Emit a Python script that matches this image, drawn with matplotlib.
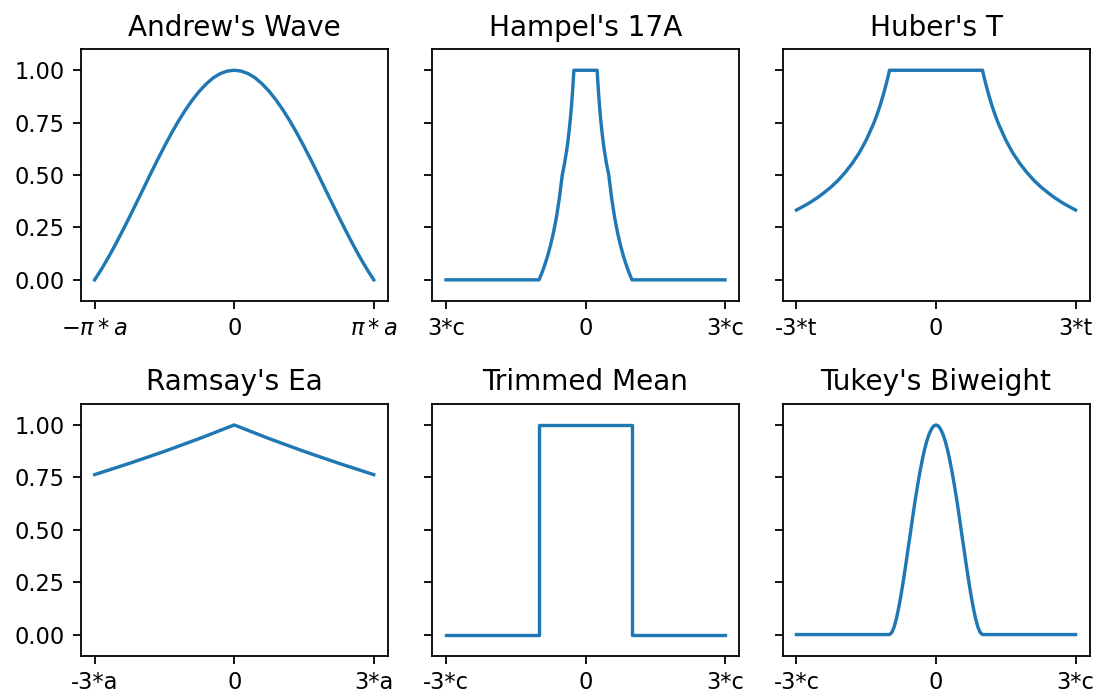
import matplotlib
matplotlib.use("Agg")
import matplotlib.pyplot as plt

# ---- data (x in units of the end ticks: -1 .. 1) ----
andrew_x = [-1.0, -0.95, -0.9, -0.85, -0.8, -0.75, -0.7, -0.65, -0.6, -0.55, -0.5,
            -0.45, -0.4, -0.35, -0.3, -0.25, -0.2, -0.15, -0.1, -0.05, 0.0,
            0.05, 0.1, 0.15, 0.2, 0.25, 0.3, 0.35, 0.4, 0.45, 0.5,
            0.55, 0.6, 0.65, 0.7, 0.75, 0.8, 0.85, 0.9, 0.95, 1.0]
andrew_y = [0.0, 0.052, 0.109, 0.170, 0.234, 0.300, 0.368, 0.436, 0.505, 0.572, 0.637,
            0.699, 0.757, 0.810, 0.858, 0.900, 0.935, 0.964, 0.984, 0.996, 1.0,
            0.996, 0.984, 0.964, 0.935, 0.900, 0.858, 0.810, 0.757, 0.699, 0.637,
            0.572, 0.505, 0.436, 0.368, 0.300, 0.234, 0.170, 0.109, 0.052, 0.0]

hampel_x = [-1.0, -0.333, -0.3125, -0.292, -0.271, -0.25, -0.229, -0.208, -0.1875, -0.1667,
            -0.15, -0.1333, -0.125, -0.1167, -0.1083, -0.1, -0.0917, -0.0833,
            0.0833, 0.0917, 0.1, 0.1083, 0.1167, 0.125, 0.1333, 0.15,
            0.1667, 0.1875, 0.208, 0.229, 0.25, 0.271, 0.292, 0.3125, 0.333, 1.0]
hampel_y = [0.0, 0.0, 0.033, 0.071, 0.115, 0.167, 0.227, 0.300, 0.389, 0.500,
            0.556, 0.625, 0.667, 0.714, 0.769, 0.833, 0.909, 1.0,
            1.0, 0.909, 0.833, 0.769, 0.714, 0.667, 0.625, 0.556,
            0.500, 0.389, 0.300, 0.227, 0.167, 0.115, 0.071, 0.033, 0.0, 0.0]

huber_x = [-1.0, -0.95, -0.9, -0.85, -0.8, -0.75, -0.7, -0.65, -0.6, -0.55, -0.5, -0.45,
           -0.425, -0.4, -0.375, -0.35, -0.3333, 0.3333, 0.35, 0.375, 0.4, 0.425,
           0.45, 0.5, 0.55, 0.6, 0.65, 0.7, 0.75, 0.8, 0.85, 0.9, 0.95, 1.0]
huber_y = [0.333, 0.351, 0.370, 0.392, 0.417, 0.444, 0.476, 0.513, 0.556, 0.606, 0.667, 0.741,
           0.784, 0.833, 0.889, 0.952, 1.0, 1.0, 0.952, 0.889, 0.833, 0.784,
           0.741, 0.667, 0.606, 0.556, 0.513, 0.476, 0.444, 0.417, 0.392, 0.370, 0.351, 0.333]

ramsay_x = [-1.0, -0.75, -0.5, -0.25, 0.0, 0.25, 0.5, 0.75, 1.0]
ramsay_y = [0.763, 0.817, 0.874, 0.935, 1.0, 0.935, 0.874, 0.817, 0.763]

trimmed_x = [-1.0, -0.3333, -0.3333, 0.3333, 0.3333, 1.0]
trimmed_y = [0.0, 0.0, 1.0, 1.0, 0.0, 0.0]

tukey_x = [-1.0, -0.3333, -0.3167, -0.3, -0.2833, -0.2667, -0.25, -0.2333, -0.2167, -0.2,
           -0.1833, -0.1667, -0.15, -0.1333, -0.1167, -0.1, -0.0833, -0.0667, -0.05,
           -0.0333, -0.0167, 0.0, 0.0167, 0.0333, 0.05, 0.0667, 0.0833, 0.1, 0.1167,
           0.1333, 0.15, 0.1667, 0.1833, 0.2, 0.2167, 0.2333, 0.25, 0.2667, 0.2833,
           0.3, 0.3167, 0.3333, 1.0]
tukey_y = [0.0, 0.0, 0.0095, 0.036, 0.077, 0.130, 0.191, 0.260, 0.333, 0.410,
           0.485, 0.5625, 0.638, 0.706, 0.770, 0.828, 0.879, 0.922, 0.955,
           0.980, 0.995, 1.0, 0.995, 0.980, 0.955, 0.922, 0.879, 0.828, 0.770,
           0.706, 0.638, 0.5625, 0.485, 0.410, 0.333, 0.260, 0.191, 0.130, 0.077,
           0.036, 0.0095, 0.0, 0.0]

titles = ["Andrew's Wave", "Hampel's 17A", "Huber's T",
          "Ramsay's Ea", "Trimmed Mean", "Tukey's Biweight"]
xlabels = [[r"$-\pi*a$", "0", r"$\pi*a$"],
           ["3*c", "0", "3*c"],
           ["-3*t", "0", "3*t"],
           ["-3*a", "0", "3*a"],
           ["-3*c", "0", "3*c"],
           ["-3*c", "0", "3*c"]]
xticks = [-1, 0, 1]
yticks = [0.0, 0.25, 0.5, 0.75, 1.0]
ytick_labels = ["0.00", "0.25", "0.50", "0.75", "1.00"]

series = [(andrew_x, andrew_y), (hampel_x, hampel_y), (huber_x, huber_y),
          (ramsay_x, ramsay_y), (trimmed_x, trimmed_y), (tukey_x, tukey_y)]

DPI = 162
W, H = 1097, 693
fig = plt.figure(figsize=(W / DPI, H / DPI), dpi=DPI)
lefts = [80.7, 432.0, 782.5]
tops = [49.3, 404.0]
aw, ah = 307.0, 251.5

for i in range(6):
    r, c = divmod(i, 3)
    ax = fig.add_axes([lefts[c] / W, 1 - (tops[r] + ah) / H, aw / W, ah / H])
    x, y = series[i]
    ax.plot(x, y, color="#1f77b4", lw=1.5)
    ax.set_xlim(-1.1, 1.1)
    ax.set_ylim(-0.1, 1.1)
    ax.set_xticks(xticks)
    ax.set_xticklabels(xlabels[i])
    ax.set_yticks(yticks)
    if c == 0:
        ax.set_yticklabels(ytick_labels)
    else:
        ax.set_yticklabels([])
    ax.tick_params(labelsize=10)
    ax.set_title(titles[i], fontsize=12.4)

fig.savefig("out.png", dpi=DPI)
